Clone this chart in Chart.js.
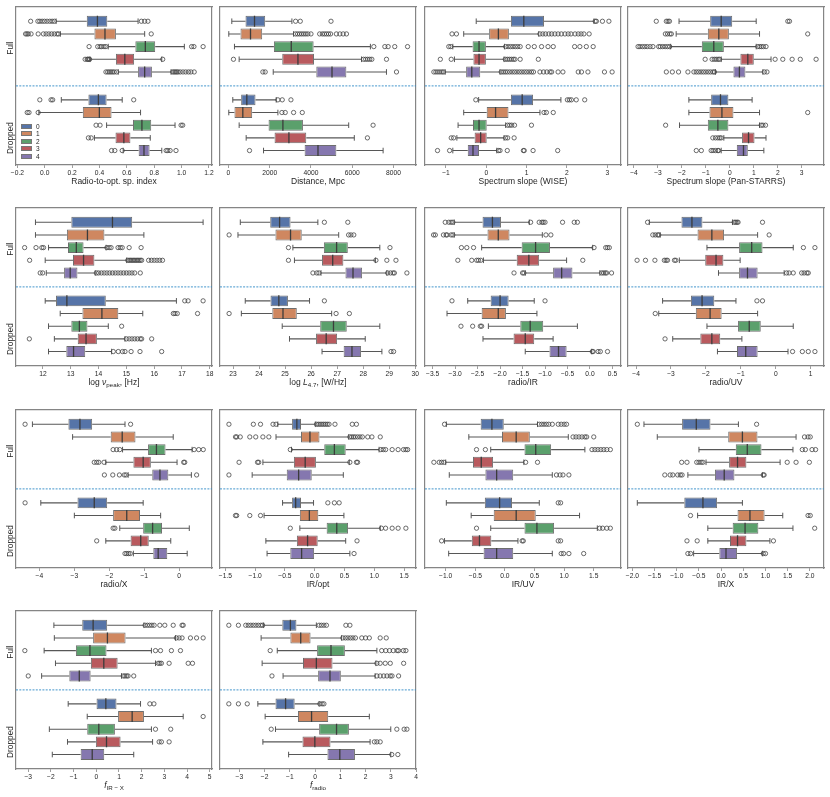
<!DOCTYPE html>
<html>
<head>
<meta charset="utf-8">
<script src="https://cdn.jsdelivr.net/npm/chart.js@4.4.1/dist/chart.umd.min.js"></script>
<style>
  html, body { margin: 0; padding: 0; background: #ffffff; }
  body { width: 830px; height: 797px; position: relative; overflow: hidden; font-family: "Liberation Sans", Arial, sans-serif; }
  canvas.panel { position: absolute; }
  .ylab { position: absolute; font-size: 8.3px; color: #262626; white-space: nowrap; transform: translate(-50%, -50%) rotate(-90deg); }
  .legpatch { position: absolute; width: 11px; height: 5px; box-sizing: border-box; border: 0.6px solid #777; }
  .leglab { position: absolute; font-size: 6.5px; color: #262626; line-height: 7px; }
</style>
</head>
<body>
<script>
// ---------------- DATA ----------------
const classes = ['0', '1', '2', '3', '4'];
const groups = ['Full', 'Dropped'];
// each stats row: [lower whisker, Q1, median, Q3, upper whisker]; rows 0-4 Full (classes 0-4), rows 5-9 Dropped

// Panel 1: Radio-to-opt. sp. index
const radioOptStats = [
  [0.083, 0.307, 0.385, 0.457, 0.682], [0.114, 0.363, 0.44, 0.52, 0.73], [0.464, 0.662, 0.735, 0.807, 1.02],
  [0.331, 0.52, 0.585, 0.653, 0.855], [0.537, 0.682, 0.73, 0.783, 0.923],
  [0.121, 0.319, 0.392, 0.452, 0.566], [-0.043, 0.278, 0.399, 0.488, 0.70], [0.452, 0.645, 0.71, 0.778, 0.952],
  [0.363, 0.517, 0.578, 0.626, 0.771], [0.573, 0.686, 0.725, 0.766, 0.855]
];
const radioOptOutliers = [
  [-0.103, -0.05, -0.036, -0.019, -0.002, 0.017, 0.037, 0.054, 0.07, 0.706, 0.73, 0.754],
  [-0.14, -0.13, -0.12, -0.10, -0.048, -0.01, 0.01, 0.03, 0.05, 0.07, 0.09, 0.10, 0.778],
  [0.324, 0.387, 0.404, 0.416, 0.433, 0.447, 1.073, 1.09, 1.157],
  [0.295, 0.31, 0.315, 0.322, 0.328, 0.862],
  [0.447, 0.46, 0.472, 0.484, 0.496, 0.508, 0.525, 0.935, 0.945, 0.955, 0.965, 0.975, 0.99, 1.01, 1.03, 1.05, 1.068, 1.092],
  [-0.036, 0.046, 0.058, 0.65],
  [-0.128, -0.115, -0.048],
  [0.375, 0.404, 0.996, 1.008],
  [0.319, 0.339],
  [0.488, 0.512, 0.566, 0.887, 0.899, 0.916, 0.959]
];
const radioOptTicks = [-0.2, 0, 0.2, 0.4, 0.6, 0.8, 1.0, 1.2];

// Panel 2: Distance, Mpc
const distanceStats = [
  [162, 826, 1263, 1781, 3076], [16, 583, 1069, 1635, 3157], [291, 2202, 3044, 4128, 6880],
  [518, 2607, 3368, 4145, 6450], [2170, 4258, 5019, 5715, 7658],
  [210, 615, 890, 1311, 2315], [16, 291, 696, 1150, 2396], [518, 1943, 2639, 3610, 5828],
  [858, 2234, 2930, 3772, 6100], [1700, 3691, 4339, 5229, 7496]
];
const distanceOutliers = [
  [3254, 3481, 4970],
  [3250, 3350, 3450, 3550, 3650, 3750, 3850, 4000, 4420, 4550, 4650, 4750, 4850, 4950, 5230, 5400, 5560, 5720],
  [7045, 7580, 7740, 8060, 8680],
  [243, 6550, 6650, 6750, 6850, 6950, 7660],
  [1668, 1781, 8144],
  [2396, 2607, 3028],
  [2590, 2752, 3157, 3578],
  [7010],
  [6735],
  [1020]
];
const distanceTicks = [0, 2000, 4000, 6000, 8000];

// Panel 3: Spectrum slope (WISE)
const wiseStats = [
  [-0.25, 0.61, 0.93, 1.43, 2.67], [-0.56, 0.07, 0.3, 0.56, 1.3], [-0.83, -0.34, -0.18, -0.01, 0.45],
  [-0.79, -0.32, -0.18, -0.01, 0.44], [-1.02, -0.5, -0.36, -0.15, 0.34],
  [-0.19, 0.61, 0.89, 1.16, 1.85], [-0.56, 0.01, 0.23, 0.55, 1.33], [-0.7, -0.33, -0.18, 0.01, 0.48],
  [-0.73, -0.29, -0.14, 0.01, 0.44], [-0.83, -0.46, -0.33, -0.18, 0.26]
];
const wiseOutliers = [
  [2.7, 2.73, 2.88, 3.04],
  [-0.85, -0.74, 1.33, 1.4, 1.47, 1.55, 1.62, 1.7, 1.78, 1.86, 1.95, 2.03, 2.1, 2.2, 2.28, 2.35, 2.42, 2.55],
  [-0.93, -0.88, 0.48, 0.54, 0.6, 0.66, 0.72, 0.78, 0.84, 1.04, 1.19, 1.37, 1.53, 1.66, 2.19, 2.32, 2.48, 2.65],
  [-1.14, -0.87, 0.47, 0.52, 0.57, 0.62, 0.67, 0.71, 0.84, 1.29],
  [-1.3, -1.25, -1.2, -1.15, -1.1, -1.06, 0.37, 0.42, 0.47, 0.52, 0.58, 0.64, 0.7, 0.76, 0.82, 0.88, 0.94, 1.0, 1.06, 1.12, 1.17, 1.33, 1.42, 1.5, 1.58, 1.62, 1.78, 1.9, 2.28, 2.36, 2.52, 2.93, 3.12],
  [-0.26, 2.01, 2.06, 2.11, 2.23, 2.44],
  [1.43, 1.49, 1.66],
  [0.53, 0.58, 0.63, 0.7, 1.12],
  [-0.87, -0.81, 0.48, 0.53, 0.69],
  [-1.21, -0.91, 0.3, 0.34, 0.52, 0.92, 0.94, 1.16, 1.77]
];
const wiseTicks = [-1, 0, 1, 2, 3];

// Panel 4: Spectrum slope (Pan-STARRS)
const panStats = [
  [-2.12, -0.82, -0.36, 0.10, 1.1], [-2.24, -0.92, -0.46, -0.04, 1.24], [-2.47, -1.17, -0.67, -0.25, 1.1],
  [-0.36, 0.44, 0.75, 1.0, 1.72], [-0.6, 0.15, 0.4, 0.65, 1.38],
  [-1.71, -0.78, -0.39, -0.06, 0.93], [-1.71, -0.85, -0.33, 0.15, 1.24], [-2.1, -0.92, -0.5, -0.06, 1.24],
  [-0.25, 0.51, 0.78, 1.03, 1.51], [-0.36, 0.29, 0.57, 0.75, 1.42]
];
const panOutliers = [
  [-3.07, -2.65, -2.58, -2.52, 2.42, 2.49],
  [-2.69, -2.6, -2.5, -2.44, 3.25],
  [-3.83, -3.75, -3.65, -3.55, -3.45, -3.33, -3.21, -2.97, -2.9, -2.8, -2.7, -2.6, -2.51, 1.17, 1.25, 1.32, 1.4, 1.51],
  [-1.03, -0.74, -0.65, -0.57, -0.49, -0.43, 1.89, 2.21, 2.6, 2.94, 3.6],
  [-2.65, -2.4, -2.14, -1.75, -1.5, -1.4, -1.3, -1.2, -1.1, -1.0, -0.9, -0.8, -0.7, -0.64, 1.44, 1.55],
  [],
  [3.25],
  [-2.68, 1.31, 1.38, 1.49],
  [-0.71, -0.6, -0.5, -0.42, -0.36],
  [-1.4, -1.19, -0.78, -0.7, -0.6, -0.5, -0.47]
];
const panTicks = [-4, -3, -2, -1, 0, 1, 2, 3];

// Panel 5: log nu_peak [Hz]
const nuPeakStats = [
  [11.73, 13.02, 14.5, 15.21, 17.76], [11.73, 12.86, 13.6, 14.21, 15.63], [12.2, 12.9, 13.2, 13.46, 14.27],
  [12.08, 13.08, 13.46, 13.85, 15.01], [12.12, 12.76, 12.98, 13.24, 13.88],
  [12.08, 12.47, 12.86, 14.26, 16.8], [12.62, 13.42, 14.12, 14.71, 15.59], [12.2, 13.02, 13.31, 13.6, 14.35],
  [12.41, 13.25, 13.55, 13.94, 14.95], [12.2, 12.84, 13.1, 13.52, 14.47]
];
const nuPeakOutliers = [
  [],
  [],
  [11.34, 11.75, 11.96, 12.02, 14.3, 14.38, 14.45, 14.7, 14.78, 14.85, 15.1, 15.53],
  [11.52, 15.05, 15.1, 15.15, 15.2, 15.25, 15.3, 15.35, 15.4, 15.45, 15.5, 15.55, 15.8, 15.9, 16.0, 16.1, 16.2, 16.3],
  [11.9, 11.99, 13.92, 14.0, 14.1, 14.2, 14.3, 14.4, 14.5, 14.6, 14.7, 14.8, 14.9, 15.0, 15.1, 15.2, 15.3, 15.5],
  [17.1, 17.22, 17.76],
  [16.69, 16.75, 16.83, 17.56],
  [14.83],
  [11.51, 15.0, 15.1, 15.2, 15.3, 15.4, 15.5, 15.55, 15.91],
  [14.53, 14.71, 14.86, 14.95, 15.17, 15.49, 16.27]
];
const nuPeakTicks = [12, 13, 14, 15, 16, 17, 18];

// Panel 6: log L_4.7 [W/Hz]
const lumStats = [
  [23.28, 24.43, 24.79, 25.21, 26.26], [23.19, 24.63, 25.21, 25.64, 27.06], [25.3, 26.49, 26.98, 27.41, 28.64],
  [25.36, 26.42, 26.83, 27.24, 28.47], [26.38, 27.32, 27.61, 27.96, 28.91],
  [23.47, 24.44, 24.76, 25.11, 25.94], [23.32, 24.51, 24.92, 25.45, 26.79], [24.89, 26.35, 26.86, 27.37, 28.64],
  [25.17, 26.19, 26.58, 27.0, 28.08], [26.42, 27.25, 27.57, 27.92, 28.72]
];
const lumOutliers = [
  [26.51, 27.41],
  [22.85, 27.44, 27.53, 27.64],
  [25.13, 29.03],
  [25.13, 28.49, 28.91, 29.26],
  [26.07, 26.22, 26.3, 28.94, 29.05, 29.15, 29.2, 29.68],
  [26.51],
  [22.85, 26.96, 27.47],
  [],
  [],
  [29.07, 29.17]
];
const lumTicks = [23, 24, 25, 26, 27, 28, 29, 30];

// Panel 7: radio/IR
const radioIrStats = [
  [-3.02, -2.39, -2.17, -1.98, -1.35], [-3.02, -2.28, -2.04, -1.79, -1.06], [-2.41, -1.52, -1.21, -0.89, 0.06],
  [-2.37, -1.63, -1.36, -1.13, -0.52], [-1.44, -0.82, -0.63, -0.39, 0.22],
  [-2.72, -2.21, -2.0, -1.81, -1.24], [-3.18, -2.41, -2.04, -1.87, -1.18], [-2.26, -1.55, -1.33, -1.04, -0.28],
  [-2.38, -1.70, -1.44, -1.24, -0.82], [-1.44, -0.90, -0.70, -0.52, 0.04]
];
const radioIrOutliers = [
  [-3.22, -3.14, -3.09, -3.05, -1.32, -1.13, -1.07, -1.04, -1.0, -0.61, -0.35, -0.28],
  [-3.48, -3.44, -3.26, -3.2, -3.18, -3.09, -3.05, -0.98, -0.87],
  [-2.86, -2.74, -2.59, 0.09, 0.35, 0.39, 0.43],
  [-2.94, -2.63, -2.52, -2.48, -2.43, -0.16],
  [-1.69, -1.5, -1.47, 0.26, 0.3, 0.34, 0.37, 0.48],
  [-3.07, -1.0],
  [],
  [-2.87, -2.61, -2.44, -2.41],
  [],
  [0.05, 0.07, 0.18, 0.23, 0.39]
];
const radioIrTicks = [-3.5, -3.0, -2.5, -2.0, -1.5, -1.0, -0.5, 0.0, 0.5];

// Panel 8: radio/UV
const radioUvStats = [
  [-3.62, -2.70, -2.40, -2.10, -1.24], [-3.31, -2.24, -1.83, -1.48, -0.52], [-1.97, -1.05, -0.69, -0.38, 0.50],
  [-2.76, -2.02, -1.71, -1.5, -1.02], [-1.64, -1.05, -0.81, -0.52, 0.24],
  [-3.24, -2.43, -2.11, -1.76, -1.14], [-3.35, -2.29, -1.88, -1.55, -0.52], [-1.97, -1.08, -0.76, -0.43, 0.50],
  [-2.95, -2.16, -1.83, -1.59, -0.97], [-1.67, -1.11, -0.86, -0.52, 0.35]
];
const radioUvOutliers = [
  [-3.67, -1.19, -1.15, -1.11, -1.08, -0.38],
  [-3.52, -3.45, -3.38, -3.35, -0.19],
  [0.79, 1.12],
  [-3.97, -3.73, -3.46, -3.19, -3.14, -3.1, -2.9, -2.86],
  [0.31, 0.38, 0.5, 0.74, 0.81, 0.89, 0.93],
  [-0.54, -0.38],
  [-3.45],
  [],
  [-3.17],
  [0.48, 0.76, 0.93, 1.12]
];
const radioUvTicks = [-4, -3, -2, -1, 0, 1];

// Panel 9: radio/X
const radioXStats = [
  [-4.2, -3.17, -2.84, -2.49, -1.55], [-3.05, -1.96, -1.63, -1.25, -0.17], [-1.62, -0.89, -0.65, -0.39, 0.37],
  [-2.1, -1.31, -1.03, -0.81, -0.06], [-1.46, -0.77, -0.55, -0.31, 0.35],
  [-3.96, -2.91, -2.43, -2.06, -1.03], [-3.0, -1.89, -1.5, -1.12, -0.53], [-1.7, -1.03, -0.76, -0.49, 0.29],
  [-2.1, -1.39, -1.1, -0.87, -0.24], [-1.31, -0.74, -0.6, -0.34, 0.23]
];
const radioXOutliers = [
  [-4.41, -1.39],
  [],
  [-1.89, -1.79, -1.70, 0.43, 0.56, 0.69],
  [-2.43, -2.36, -2.30, -2.15, 0.13, 0.16],
  [-2.14, -1.9, -1.71, -1.57, -1.52, 0.5],
  [-4.41],
  [],
  [-1.89, -1.84],
  [-2.36],
  [-1.55, -1.5, -1.45, -1.4]
];
const radioXTicks = [-4, -3, -2, -1, 0];

// Panel 10: IR/opt
const irOptStats = [
  [-0.62, -0.38, -0.30, -0.23, 0.01], [-0.65, -0.23, -0.08, 0.08, 0.57], [-0.39, 0.16, 0.33, 0.52, 1.08],
  [-0.87, -0.35, -0.16, 0.02, 0.58], [-1.05, -0.47, -0.27, -0.05, 0.48],
  [-0.54, -0.38, -0.32, -0.23, -0.02], [-0.85, -0.25, -0.09, 0.06, 0.49], [-0.25, 0.2, 0.37, 0.56, 1.1],
  [-0.82, -0.3, -0.12, 0.05, 0.52], [-0.80, -0.41, -0.22, -0.01, 0.59]
];
const irOptOutliers = [
  [-1.44, -1.03, -0.91, -0.70, -0.65, 0.03, 0.06, 0.09, 0.12, 0.15, 0.18, 0.21, 0.24, 0.34, 0.63, 0.70],
  [-1.33, -1.31, -1.25, -1.09, -0.99, -0.87, -0.77, 0.59, 0.62, 0.65, 0.68, 0.72, 0.76, 0.80, 0.89, 0.96, 1.1],
  [-0.41, 1.11, 1.15, 1.19, 1.3, 1.4, 1.49, 1.53, 1.56],
  [-1.27, -0.96, -0.94, 0.59, 0.70, 0.72],
  [-1.44],
  [0.22, 0.33, 0.41],
  [-1.33, -1.31, -1.09, -0.91],
  [-0.41, 1.12, 1.19, 1.3, 1.4, 1.53],
  [0.71],
  [0.66]
];
const irOptTicks = [-1.5, -1.0, -0.5, 0.0, 0.5, 1.0, 1.5];

// Panel 11: IR/UV
const irUvStats = [
  [-0.99, -0.41, -0.22, -0.02, 0.55], [-0.61, -0.05, 0.19, 0.42, 1.07], [-0.24, 0.33, 0.52, 0.78, 1.35],
  [-1.0, -0.54, -0.4, -0.2, 0.32], [-0.94, -0.33, -0.14, 0.14, 0.8],
  [-0.99, -0.34, -0.09, 0.12, 0.58], [-0.57, -0.19, 0.19, 0.52, 1.26], [-0.24, 0.33, 0.54, 0.83, 1.56],
  [-1.02, -0.56, -0.43, -0.23, 0.22], [-0.95, -0.36, -0.14, 0.14, 0.8]
];
const irUvOutliers = [
  [-1.02, 0.58, 0.62, 0.66, 0.70, 0.74, 0.80, 0.90, 0.95, 1.0, 1.04],
  [1.15, 1.2, 1.25, 1.3, 1.35, 1.38, 1.5],
  [-0.48, -0.33, 1.47, 1.52, 1.57, 1.62, 1.67, 1.72, 1.78],
  [-1.2, -1.11, -1.07, -1.03, 0.35, 0.55],
  [0.87, 0.93, 0.98, 1.08],
  [0.9, 0.94],
  [],
  [-0.48, 1.6, 1.65, 1.72, 1.78],
  [-1.07, 0.29, 0.31, 0.9, 0.94],
  [0.95, 0.99, 1.08, 1.33]
];
const irUvTicks = [-1.0, -0.5, 0.0, 0.5, 1.0, 1.5];

// Panel 12: IR/X
const irXStats = [
  [-1.74, -0.88, -0.56, -0.24, 0.39], [-1.44, 0.16, 0.48, 0.82, 1.69], [-0.5, 0.33, 0.59, 0.91, 1.62],
  [-0.34, 0.18, 0.37, 0.57, 1.33], [-0.75, -0.14, 0.07, 0.30, 0.93],
  [-1.89, -0.83, -0.41, -0.09, 0.48], [-0.53, 0.37, 0.65, 0.98, 1.39], [-0.3, 0.26, 0.54, 0.84, 1.62],
  [-0.3, 0.2, 0.37, 0.57, 1.1], [-0.62, -0.04, 0.11, 0.36, 0.93]
];
const irXOutliers = [
  [-1.89, 0.80],
  [1.88, 1.96, 2.01],
  [1.83, 1.9, 2.05, 2.13],
  [-0.89, -0.77, -0.55, -0.5, -0.45, -0.41, 1.49, 1.69, 1.99],
  [-1.27, -1.15, -1.09, -0.98, -0.92, -0.88, 0.95, 0.97],
  [],
  [-0.69, 1.96, 2.01],
  [2.11],
  [-0.77, -0.54, 1.18],
  [-0.75, -0.69, 0.95, 1.0]
];
const irXTicks = [-2.0, -1.5, -1.0, -0.5, 0.0, 0.5, 1.0, 1.5, 2.0];

// Panel 13: f_IR-X
const fIrXStats = [
  [-1.87, -0.62, -0.14, 0.48, 2.1], [-1.85, -0.14, 0.49, 1.29, 3.49], [-2.3, -0.9, -0.28, 0.45, 2.43],
  [-1.8, -0.24, 0.33, 0.94, 2.61], [-2.41, -1.19, -0.75, -0.25, 1.11],
  [-1.24, 0.01, 0.42, 0.89, 1.95], [-0.4, 0.96, 1.58, 2.1, 3.83], [-2.07, -0.4, 0.11, 0.82, 2.43],
  [-1.27, -0.02, 0.45, 1.07, 2.48], [-1.94, -0.69, -0.18, 0.35, 1.65]
];
const fIrXOutliers = [
  [2.15, 2.25, 2.35, 2.45, 2.55, 2.8, 3.02, 3.39, 3.78, 3.83],
  [3.53, 3.65, 3.78, 4.15, 4.42, 4.71],
  [-3.15, 2.61, 2.83, 3.31, 3.71],
  [2.73, 2.8, 2.87, 3.21, 4.05, 4.24],
  [-3.0, 1.19, 1.26, 1.34, 1.4, 1.65],
  [2.36, 2.54],
  [4.71],
  [2.61, 3.28],
  [2.77, 2.87, 3.21],
  []
];
const fIrXTicks = [-3, -2, -1, 0, 1, 2, 3, 4, 5];

// Panel 14: f_radio
const fRadioStats = [
  [-2.04, -1.30, -0.98, -0.74, 0.05], [-2.14, -0.98, -0.57, -0.18, 1.05], [-1.5, 0.08, 0.63, 1.18, 2.45],
  [-2.1, -0.48, 0.05, 0.69, 2.41], [-1.27, 0.12, 0.59, 1.02, 2.38],
  [-2.27, -1.57, -1.17, -0.81, 0.16], [-1.98, -0.68, -0.14, 0.52, 2.15], [-1.57, 0.16, 0.85, 1.34, 3.0],
  [-2.07, -0.5, -0.01, 0.61, 2.18], [-1.05, 0.49, 0.98, 1.58, 3.0]
];
const fRadioOutliers = [
  [-3.42, -3.04, -2.75, -2.65, -2.55, -2.45, -2.35, -2.25, -2.15, -2.08, 0.16, 0.25, 0.35, 0.45, 1.22, 1.38],
  [1.1, 1.2, 1.3, 1.4, 1.5, 1.6, 1.85, 2.0, 2.15, 2.58, 2.82],
  [-1.78, 2.64, 2.8, 2.95, 3.1, 3.25, 3.31, 3.5, 3.6],
  [2.45, 2.58, 2.78, 2.98, 3.51],
  [-1.71, 2.45, 2.58, 2.72, 2.85, 2.98, 3.05, 3.31],
  [-3.42, -3.04, -2.69, 0.19, 0.28, 0.35],
  [],
  [-1.74, 3.24, 3.53, 3.64],
  [2.35, 2.45, 2.58],
  [3.04, 3.28]
];
const fRadioTicks = [-3, -2, -1, 0, 1, 2, 3, 4];

// ---------------- CONFIG ----------------
const FONT = '"Liberation Sans", Arial, sans-serif';
const palette = ['#5674a8', '#cf8760', '#5ba06c', '#b95a5e', '#8577af'];
const ROW_POS = [0, 1, 2, 3, 4, 6.2, 7.2, 8.2, 9.2, 10.2];
const SEP_POS = 5.1;
const Y_RANGE = [-1.14, 11.34];
const COL_LEFT = [16, 220, 425, 628];
const ROW_TOP = [4, 205, 407, 608];
const FRAME = '#858585';
const TEXT = '#262626';

const panels = [
  { stats: radioOptStats, outliers: radioOptOutliers, ticks: radioOptTicks, dec: 1, limits: [-0.21, 1.222], title: 'Radio-to-opt. sp. index' },
  { stats: distanceStats, outliers: distanceOutliers, ticks: distanceTicks, dec: 0, limits: [-410, 9090], title: 'Distance, Mpc' },
  { stats: wiseStats, outliers: wiseOutliers, ticks: wiseTicks, dec: 0, limits: [-1.52, 3.34], title: 'Spectrum slope (WISE)' },
  { stats: panStats, outliers: panOutliers, ticks: panTicks, dec: 0, limits: [-4.25, 3.93], title: 'Spectrum slope (Pan-STARRS)' },
  { stats: nuPeakStats, outliers: nuPeakOutliers, ticks: nuPeakTicks, dec: 0, limits: [11.03, 18.08], math: [['log ', 'n'], ['ν', 'i'], ['peak', 's'], [', [Hz]', 'n']] },
  { stats: lumStats, outliers: lumOutliers, ticks: lumTicks, dec: 0, limits: [22.5, 30.03], math: [['log ', 'n'], ['L', 'i'], ['4.7', 's'], [', [W/Hz]', 'n']] },
  { stats: radioIrStats, outliers: radioIrOutliers, ticks: radioIrTicks, dec: 1, limits: [-3.67, 0.69], title: 'radio/IR' },
  { stats: radioUvStats, outliers: radioUvOutliers, ticks: radioUvTicks, dec: 0, limits: [-4.23, 1.38], title: 'radio/UV' },
  { stats: radioXStats, outliers: radioXOutliers, ticks: radioXTicks, dec: 0, limits: [-4.67, 0.94], title: 'radio/X' },
  { stats: irOptStats, outliers: irOptOutliers, ticks: irOptTicks, dec: 1, limits: [-1.59, 1.7], title: 'IR/opt' },
  { stats: irUvStats, outliers: irUvOutliers, ticks: irUvTicks, dec: 1, limits: [-1.35, 1.96], title: 'IR/UV' },
  { stats: irXStats, outliers: irXOutliers, ticks: irXTicks, dec: 1, limits: [-2.1, 2.32], title: 'IR/X' },
  { stats: fIrXStats, outliers: fIrXOutliers, ticks: fIrXTicks, dec: 0, limits: [-3.54, 5.1], math: [['f', 'i'], ['IR − X', 's']] },
  { stats: fRadioStats, outliers: fRadioOutliers, ticks: fRadioTicks, dec: 0, limits: [-3.77, 4.0], math: [['f', 'i'], ['radio', 's']] }
];

function fmt(v, d) {
  const s = Math.abs(v).toFixed(d);
  return (v < -1e-9 ? '\u2212' : '') + s;
}

function mathTitlePlugin(parts) {
  return {
    id: 'mathTitle',
    afterDraw(chart) {
      if (!parts) return;
      const ctx = chart.ctx, ca = chart.chartArea;
      const fonts = { n: '8.5px ' + FONT, i: 'italic 8.5px ' + FONT, s: '6.2px ' + FONT };
      ctx.save();
      ctx.fillStyle = TEXT;
      ctx.textBaseline = 'middle';
      ctx.textAlign = 'left';
      let total = 0;
      parts.forEach(([t, k]) => { ctx.font = fonts[k]; total += ctx.measureText(t).width; });
      let x = (ca.left + ca.right) / 2 - total / 2;
      const y = ca.bottom + 17;
      parts.forEach(([t, k]) => {
        ctx.font = fonts[k];
        ctx.fillText(t, x, k === 's' ? y + 2.4 : y);
        x += ctx.measureText(t).width;
      });
      ctx.restore();
    }
  };
}

const hiddenAxis = (pos) => ({
  type: 'linear', position: pos, display: true, offset: false,
  ticks: { display: false },
  grid: { display: false, drawTicks: false },
  border: { display: true, color: FRAME, width: 1.2 }
});

panels.forEach((p, idx) => {
  const col = idx % 4, row = Math.floor(idx / 4);
  const cv = document.createElement('canvas');
  cv.className = 'panel';
  cv.width = 212; cv.height = 197;
  cv.style.width = '212px'; cv.style.height = '197px';
  cv.style.left = (COL_LEFT[col] - 8) + 'px';
  cv.style.top = (ROW_TOP[row] - 4) + 'px';
  document.body.appendChild(cv);

  const boxes = p.stats.map((s, i) => ({ x: [s[1], s[3]], y: ROW_POS[i] }));
  const boxColors = p.stats.map((s, i) => palette[i % classes.length]);
  const whiskers = p.stats.flatMap((s, i) => [{ x: [s[0], s[1]], y: ROW_POS[i] }, { x: [s[3], s[4]], y: ROW_POS[i] }]);
  const caps = p.stats.flatMap((s, i) => [{ x: s[0], y: ROW_POS[i] }, { x: s[4], y: ROW_POS[i] }]);
  const medians = p.stats.map((s, i) => ({ x: s[2], y: ROW_POS[i] }));
  const fliers = p.outliers.flatMap((o, i) => o.map(v => ({ x: v, y: ROW_POS[i] })));
  const sep = [{ x: p.limits[0], y: SEP_POS }, { x: p.limits[1], y: SEP_POS }];

  new Chart(cv, {
    type: 'bar',
    data: {
      datasets: [
        { type: 'scatter', label: 'outliers', data: fliers, xAxisID: 'x', yAxisID: 'y', order: 1,
          pointStyle: 'circle', pointRadius: 2.15, pointBorderWidth: 0.8, pointBorderColor: '#454545',
          pointBackgroundColor: 'rgba(255,255,255,0)' },
        { type: 'scatter', label: 'medians', data: medians, xAxisID: 'x', yAxisID: 'y', order: 2,
          pointStyle: 'line', pointRotation: 90, pointRadius: 5.5, pointBorderWidth: 1.3, pointBorderColor: '#3c3c3c' },
        { type: 'scatter', label: 'caps', data: caps, xAxisID: 'x', yAxisID: 'y', order: 3,
          pointStyle: 'line', pointRotation: 90, pointRadius: 2.8, pointBorderWidth: 1, pointBorderColor: '#575757' },
        { type: 'bar', label: 'boxes', data: boxes, xAxisID: 'x', yAxisID: 'y', order: 4, grouped: false,
          categoryPercentage: 1, barPercentage: 0.86, backgroundColor: boxColors,
          borderColor: '#6e6e6e', borderWidth: 1, borderSkipped: false },
        { type: 'bar', label: 'whiskers', data: whiskers, xAxisID: 'x', yAxisID: 'y', order: 5, grouped: false,
          categoryPercentage: 1, barPercentage: 0.085, backgroundColor: '#575757', borderWidth: 0 },
        { type: 'scatter', label: 'separator', data: sep, xAxisID: 'x', yAxisID: 'y', order: 6,
          showLine: true, borderColor: '#2f8ac6', borderWidth: 0.9, borderDash: [2, 1.3], pointRadius: 0 }
      ]
    },
    options: {
      indexAxis: 'y',
      responsive: false,
      animation: false,
      events: [],
      layout: { padding: { left: 8, right: 8, top: 4, bottom: 0 } },
      plugins: { legend: { display: false }, tooltip: { enabled: false } },
      scales: {
        x: {
          type: 'linear', position: 'bottom', min: p.limits[0], max: p.limits[1], offset: false,
          afterBuildTicks: (s) => { s.ticks = p.ticks.map(v => ({ value: v })); },
          afterFit: (s) => { s.height = 32; },
          ticks: { font: { family: FONT, size: 6.7 }, color: TEXT, padding: 1, maxRotation: 0, minRotation: 0, autoSkip: false,
                   callback: (v) => fmt(v, p.dec) },
          grid: { display: true, drawOnChartArea: false, drawTicks: true, tickLength: 3, tickColor: FRAME, tickWidth: 0.8 },
          border: { display: true, color: FRAME, width: 1.2 },
          title: { display: !!p.title, text: p.title || '', font: { family: FONT, size: 8.5 }, color: TEXT, padding: { top: 0, bottom: 10 } }
        },
        x2: hiddenAxis('top'),
        y: {
          type: 'linear', position: 'left', min: Y_RANGE[0], max: Y_RANGE[1], reverse: true, offset: false,
          afterBuildTicks: (s) => { s.ticks = []; },
          ticks: { display: false },
          grid: { display: false, drawTicks: false },
          border: { display: true, color: FRAME, width: 1.2 }
        },
        y2: hiddenAxis('right')
      }
    },
    plugins: [mathTitlePlugin(p.math)]
  });

  // group labels on the first column
  if (col === 0) {
    const offs = [43.5, 134];
    groups.forEach((g, gi) => {
      const d = document.createElement('div');
      d.className = 'ylab';
      d.textContent = g;
      d.style.left = '9.5px';
      d.style.top = (ROW_TOP[row] + offs[gi]) + 'px';
      document.body.appendChild(d);
    });
  }
});

// legend inside the first panel
classes.forEach((c, k) => {
  const cy = 126 + 7.5 * k;
  const patch = document.createElement('div');
  patch.className = 'legpatch';
  patch.style.left = '21px';
  patch.style.top = (cy - 2.5) + 'px';
  patch.style.background = palette[k];
  document.body.appendChild(patch);
  const lab = document.createElement('div');
  lab.className = 'leglab';
  lab.textContent = c;
  lab.style.left = '36px';
  lab.style.top = (cy - 3.5) + 'px';
  document.body.appendChild(lab);
});
</script>
</body>
</html>
